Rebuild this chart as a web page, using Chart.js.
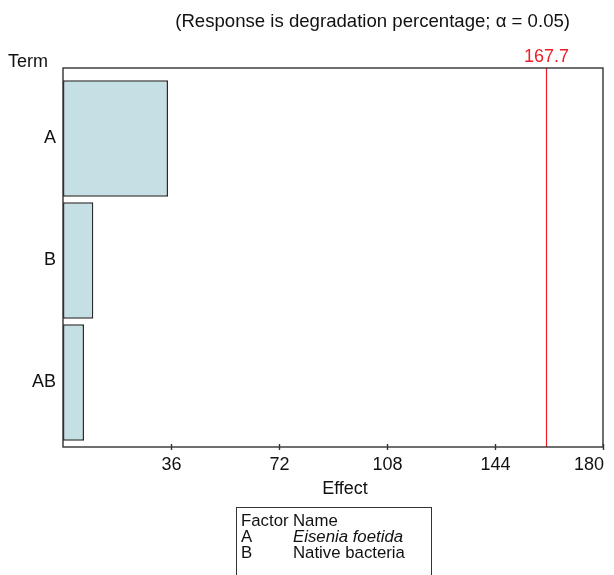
<!DOCTYPE html>
<html>
<head>
<meta charset="utf-8">
<script src="https://cdn.jsdelivr.net/npm/chart.js@4"></script>
<style>
  html, body { margin: 0; padding: 0; background: #fff; }
  #wrap { position: relative; width: 614px; height: 575px; overflow: hidden; }
  canvas { position: absolute; left: 0; top: 0; }
  #tbl { position: absolute; left: 236px; top: 507px; width: 196px; height: 80px;
         border: 1.3px solid #333; border-bottom: none; box-sizing: border-box;
         font-family: 'Liberation Sans', Arial, sans-serif; font-size: 16.8px; color: #111;
         line-height: 16px; padding: 5px 0 0 4px; }
  #tbl .row { display: flex; white-space: nowrap; }
  #tbl .c1 { width: 52px; }
  #tbl i { font-style: italic; }
</style>
</head>
<body>
<div id="wrap">
  <canvas id="c" width="614" height="575"></canvas>
  <div id="tbl"></div>
</div>
<script>
// ---- data ----
const terms = ["A", "B", "AB"];
const effects = [35.0, 10.1, 7.0];
const xTicks = [36, 72, 108, 144, 180];
const refLine = 161;          // position of the red reference line as drawn
const refLabel = "167.7";     // label printed above the reference line
const subtitle = "(Response is degradation percentage; \u03b1 = 0.05)";
const yTitle = "Term";
const xTitle = "Effect";
const factorCodes = ["A", "B"];
const factorNames = ["Eisenia foetida", "Native bacteria"];
const factorItalic = [true, false];

// legend table (HTML text)
const tbl = document.getElementById('tbl');
let html = '<div class="row"><span class="c1">Factor</span><span>Name</span></div>';
factorCodes.forEach((c, i) => {
  const nm = factorItalic[i] ? '<i>' + factorNames[i] + '</i>' : factorNames[i];
  html += '<div class="row"><span class="c1">' + c + '</span><span>' + nm + '</span></div>';
});
tbl.innerHTML = html;

Chart.defaults.font.family = "'Liberation Sans', Arial, sans-serif";
Chart.defaults.font.size = 18;
Chart.defaults.color = '#111';

const FONT = "18px 'Liberation Sans', Arial, sans-serif";
const RED = '#ee1c25';

const decor = {
  id: 'decor',
  afterDatasetsDraw(chart) {
    const { ctx, chartArea: a, scales: { x } } = chart;
    ctx.save();
    // reference line
    const rx = Math.round(x.getPixelForValue(refLine)) + 0.5;
    ctx.strokeStyle = RED;
    ctx.lineWidth = 1.2;
    ctx.beginPath(); ctx.moveTo(rx, a.top); ctx.lineTo(rx, a.bottom); ctx.stroke();
    // frame
    ctx.strokeStyle = '#333';
    ctx.lineWidth = 1.4;
    ctx.strokeRect(a.left, a.top, a.right - a.left, a.bottom - a.top);
    // x tick marks crossing the axis + tick labels
    ctx.font = FONT;
    ctx.textBaseline = 'middle';
    ctx.fillStyle = '#111';
    xTicks.forEach(v => {
      const px = Math.round(x.getPixelForValue(v)) + 0.5;
      ctx.beginPath(); ctx.moveTo(px, a.bottom - 3); ctx.lineTo(px, a.bottom + 3); ctx.stroke();
      const lbl = String(v);
      const w = ctx.measureText(lbl).width;
      let cx = px;
      if (cx + w / 2 > a.right + 1) cx = a.right + 1 - w / 2;
      ctx.textAlign = 'center';
      ctx.fillText(lbl, cx, a.bottom + 18);
    });
    // axis title
    ctx.textAlign = 'center';
    ctx.fillText(xTitle, 345, a.bottom + 42);
    // texts
    ctx.fillStyle = RED;
    ctx.textAlign = 'center';
    ctx.fillText(refLabel, rx, a.top - 11);
    ctx.fillStyle = '#111';
    ctx.textAlign = 'left';
    ctx.fillText(yTitle, 8, a.top - 6);
    ctx.textAlign = 'right';
    ctx.font = "18.6px 'Liberation Sans', Arial, sans-serif";
    ctx.fillText(subtitle, 570, 22);
    ctx.restore();
  }
};

new Chart(document.getElementById('c'), {
  type: 'bar',
  data: {
    datasets: [{
      data: terms.map((t, i) => ({ x: effects[i], y: i })),
      backgroundColor: '#c4e0e5',
      borderColor: '#2b2b2b',
      borderWidth: 1.5,
      borderSkipped: false,
      barPercentage: 0.955,
      categoryPercentage: 1
    }]
  },
  options: {
    indexAxis: 'y',
    responsive: false,
    animation: false,
    layout: { padding: { top: 68, right: 11, left: 0, bottom: 68 } },
    plugins: { legend: { display: false }, tooltip: { enabled: false } },
    scales: {
      x: {
        type: 'linear', min: 0, max: 180,
        afterBuildTicks(s) { s.ticks = xTicks.map(v => ({ value: v })); },
        afterFit(s) { s.height = 60; s.paddingLeft = 0; s.paddingRight = 0; },
        grid: { display: false, drawTicks: false },
        border: { display: false },
        ticks: { display: false },
        title: { display: false }
      },
      y: {
        type: 'linear', reverse: true, min: -0.578, max: 2.529, offset: false,
        afterBuildTicks(s) { s.ticks = terms.map((t, i) => ({ value: i })); },
        afterFit(s) { s.width = 63; s.paddingTop = 0; s.paddingBottom = 0; },
        grid: { display: false, drawTicks: false, offset: false },
        border: { display: false },
        ticks: { padding: 7, color: '#111', font: { size: 18 }, callback: (v) => terms[v] }
      }
    }
  },
  plugins: [decor]
});
</script>
</body>
</html>
